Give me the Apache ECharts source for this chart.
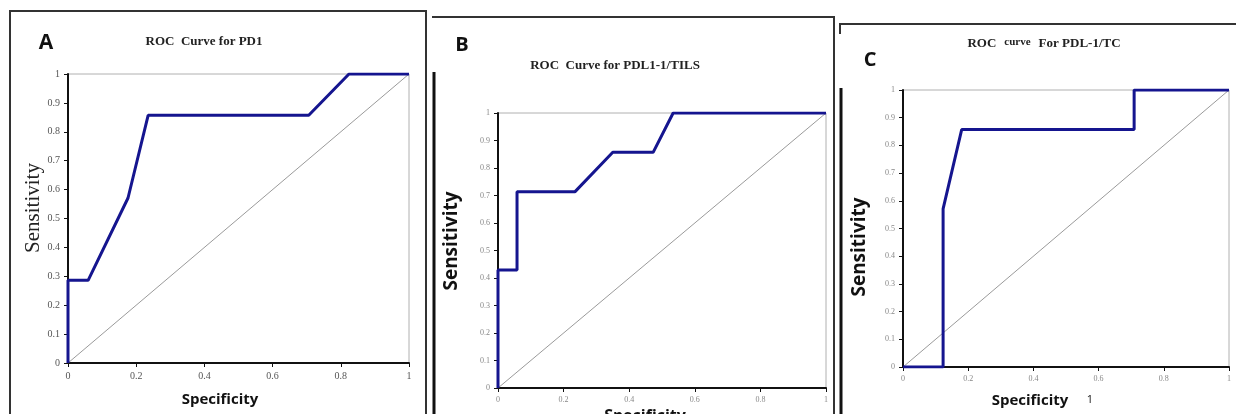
<!DOCTYPE html>
<html>
<head>
<meta charset="utf-8">
<script src="https://cdn.jsdelivr.net/npm/echarts@6/dist/echarts.min.js"></script>
<style>
  html, body { margin: 0; padding: 0; background: #fff; }
  #chart { width: 1236px; height: 414px; }
</style>
</head>
<body>
<div id="chart"></div>
<script>
// panel A - ROC curve for PD1
const specA = [0, 0, 0.059, 0.176, 0.235, 0.706, 0.824, 1]
const sensA = [0, 0.286, 0.286, 0.571, 0.857, 0.857, 1, 1]
// panel B - PDL1-1/TILS
const specB = [0, 0, 0.058, 0.058, 0.235, 0.35, 0.473, 0.534, 1]
const sensB = [0, 0.429, 0.429, 0.714, 0.714, 0.857, 0.857, 1, 1]
// panel C - PDL-1/TC
const specC = [0, 0.123, 0.123, 0.18, 0.709, 0.709, 1]
const sensC = [0, 0, 0.571, 0.857, 0.857, 1, 1]
// reference diagonal
const diagX = [0, 1]
const diagY = [0, 1]

const titles = ['ROC  Curve for PD1', 'ROC  Curve for PDL1-1/TILS', '{a|ROC}{s|  }{b|curve}{s|  }{a|For PDL-1/TC}']
const letters = ['A', 'B', 'C']

const serif = '"Liberation Serif", "DejaVu Serif", serif'
const sans = '"Open Sans", "Liberation Sans", sans-serif'
const blue = '#15158f'

const grids = [
  { left: 68, top: 74, width: 341, height: 289 },
  { left: 498, top: 113, width: 328, height: 275 },
  { left: 903, top: 90, width: 326, height: 277 }
]
const labelSizes = [10, 8, 8]
const labelColors = ['#555', '#888', '#888']

function pairs(xs, ys) {
  return xs.map((x, i) => [x, ys[i]])
}

const chart = echarts.init(document.getElementById('chart'))

const option = {
  animation: false,
  backgroundColor: '#fff',
  grid: grids.map((g) => Object.assign({ show: true, borderColor: '#b0b0b0', borderWidth: 1, backgroundColor: 'transparent' }, g)),
  xAxis: grids.map((g, i) => ({
    type: 'value',
    gridIndex: i,
    min: 0,
    max: 1,
    interval: 0.2,
    axisLine: { show: true, onZero: false, lineStyle: { color: '#111', width: 2 } },
    axisTick: { show: true, length: 4, lineStyle: { color: '#111' } },
    axisLabel: { color: labelColors[i], fontFamily: serif, fontSize: labelSizes[i], margin: 8 },
    splitLine: { show: false }
  })),
  yAxis: grids.map((g, i) => ({
    type: 'value',
    gridIndex: i,
    min: 0,
    max: 1,
    interval: 0.1,
    axisLine: { show: true, onZero: false, lineStyle: { color: '#111', width: 2 } },
    axisTick: { show: true, length: 4, lineStyle: { color: '#111' } },
    axisLabel: {
      color: labelColors[i], fontFamily: serif, fontSize: labelSizes[i], margin: 8,
      formatter: (v) => String(Math.round(v * 10) / 10)
    },
    splitLine: { show: false }
  })),
  series: [
    { x: specA, y: sensA },
    { x: specB, y: sensB },
    { x: specC, y: sensC }
  ].flatMap((d, i) => [
    {
      type: 'line', xAxisIndex: i, yAxisIndex: i, symbol: 'none', silent: true,
      data: pairs(diagX, diagY),
      lineStyle: { color: '#9a9a9a', width: 1 }
    },
    {
      type: 'line', xAxisIndex: i, yAxisIndex: i, symbol: 'none', silent: true,
      data: pairs(d.x, d.y),
      lineStyle: { color: blue, width: 3 },
      z: 3
    }
  ]),
  graphic: [
    // panel frames
    { type: 'rect', shape: { x: 10, y: 11, width: 416, height: 420 }, style: { fill: 'none', stroke: '#333', lineWidth: 2 } },
    { type: 'polyline', shape: { points: [[432, 17], [834, 17], [834, 420]] }, style: { fill: 'none', stroke: '#333', lineWidth: 2 } },
    { type: 'line', shape: { x1: 434, y1: 72, x2: 434, y2: 420 }, style: { stroke: '#111', lineWidth: 3 } },
    { type: 'polyline', shape: { points: [[840, 34], [840, 24], [1236, 24]] }, style: { fill: 'none', stroke: '#333', lineWidth: 2 } },
    { type: 'line', shape: { x1: 841, y1: 88, x2: 841, y2: 420 }, style: { stroke: '#111', lineWidth: 3 } },
    // panel letters
    { type: 'text', x: 46, y: 43, style: { text: letters[0], font: 'bold 21px ' + sans, fill: '#111', align: 'center', verticalAlign: 'middle' } },
    { type: 'text', x: 462, y: 45, style: { text: letters[1], font: 'bold 20px ' + sans, fill: '#111', align: 'center', verticalAlign: 'middle' } },
    { type: 'text', x: 870, y: 60, style: { text: letters[2], font: 'bold 20px ' + sans, fill: '#111', align: 'center', verticalAlign: 'middle' } },
    // titles
    { type: 'text', x: 204, y: 42, style: { text: titles[0], font: 'bold 13px ' + serif, fill: '#222', align: 'center', verticalAlign: 'middle' } },
    { type: 'text', x: 615, y: 66, style: { text: titles[1], font: 'bold 13px ' + serif, fill: '#222', align: 'center', verticalAlign: 'middle' } },
    {
      type: 'text', x: 1044, y: 44,
      style: {
        text: titles[2], fill: '#222', align: 'center', verticalAlign: 'middle',
        rich: {
          a: { font: 'bold 13px ' + serif, fill: '#222' },
          s: { font: 'bold 13px ' + serif, fill: '#222', width: 8 },
          b: { font: 'bold 11px ' + serif, fill: '#222', padding: [0, 0, 3, 0] }
        }
      }
    },
    // axis names
    { type: 'text', x: 33, y: 208, rotation: Math.PI / 2, style: { text: 'Sensitivity', font: '21px ' + serif, fill: '#222', align: 'center', verticalAlign: 'middle' } },
    { type: 'text', x: 220, y: 400, style: { text: 'Specificity', font: 'bold 15px ' + sans, fill: '#111', align: 'center', verticalAlign: 'middle' } },
    { type: 'text', x: 452, y: 241, rotation: Math.PI / 2, style: { text: 'Sensitivity', font: 'bold 19px ' + sans, fill: '#111', align: 'center', verticalAlign: 'middle' } },
    { type: 'text', x: 645, y: 416, style: { text: 'Specificity', font: 'bold 16px ' + sans, fill: '#111', align: 'center', verticalAlign: 'middle' } },
    { type: 'text', x: 860, y: 247, rotation: Math.PI / 2, style: { text: 'Sensitivity', font: 'bold 19px ' + sans, fill: '#111', align: 'center', verticalAlign: 'middle' } },
    { type: 'text', x: 1030, y: 401, style: { text: 'Specificity', font: 'bold 15px ' + sans, fill: '#111', align: 'center', verticalAlign: 'middle' } },
    { type: 'text', x: 1090, y: 400, style: { text: '1', font: '11px ' + sans, fill: '#111', align: 'center', verticalAlign: 'middle' } }
  ]
}

chart.setOption(option)
</script>
</body>
</html>
